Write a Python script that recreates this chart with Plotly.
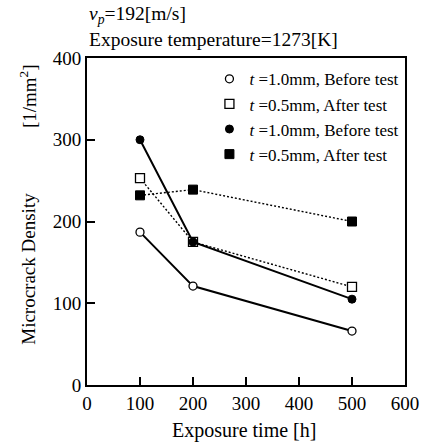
import plotly.graph_objects as go

x_time = [100, 200, 500]
open_circle = [187, 121, 66]      # t=1.0mm, Before test (open)
open_square = [253, 175, 120]     # t=0.5mm, After test (open)
filled_circle = [300, 175, 105]   # t=1.0mm, Before test (filled)
filled_square = [232, 239, 200]   # t=0.5mm, After test (filled)

x_ticks = [0, 100, 200, 300, 400, 500, 600]
y_ticks = [0, 100, 200, 300, 400]

labels = ["<i>t</i> =1.0mm, Before test", "<i>t</i> =0.5mm, After test",
          "<i>t</i> =1.0mm, Before test", "<i>t</i> =0.5mm, After test"]

FONT = "Liberation Serif, Times New Roman, serif"
fig = go.Figure()

series = [
    (open_circle, "circle", True, "solid", 2.0),
    (open_square, "square", True, "2px,2px", 1.4),
    (filled_circle, "circle", False, "solid", 2.0),
    (filled_square, "square", False, "2px,2px", 1.4),
]


def mk(sym, is_open):
    size = 8 if sym == "circle" else 9
    if is_open:
        return dict(symbol=sym, size=size, color="white",
                    line=dict(color="black", width=1.3))
    return dict(symbol=sym, size=size, color="black",
                line=dict(color="black", width=1))


for vals, sym, is_open, dash, w in series:
    fig.add_trace(go.Scatter(
        x=x_time, y=vals, mode="lines", showlegend=False,
        line=dict(color="black", width=w, dash=dash)))
for vals, sym, is_open, dash, w in series:
    fig.add_trace(go.Scatter(x=x_time, y=vals, mode="markers",
                             showlegend=False, marker=mk(sym, is_open)))
for (vals, sym, is_open, dash, w), lab in zip(series, labels):
    fig.add_trace(go.Scatter(x=[None], y=[None], mode="markers", name=lab,
                             marker=mk(sym, is_open)))

fig.update_layout(
    width=431, height=443,
    margin=dict(l=87, r=15, t=58, b=58),
    paper_bgcolor="white", plot_bgcolor="white",
    font=dict(family=FONT, size=19, color="black"),
    legend=dict(x=0.385, y=0.99, xanchor="left", yanchor="top",
                bgcolor="rgba(0,0,0,0)", font=dict(size=17, family=FONT),
                tracegroupgap=0, itemwidth=30),
    xaxis=dict(range=[0, 600], tickvals=x_ticks,
               showline=True, linecolor="black", linewidth=2, mirror=True,
               ticks="inside", ticklen=8, tickwidth=2, tickcolor="black",
               showgrid=False, zeroline=False, tickfont=dict(size=19)),
    yaxis=dict(range=[0, 400], tickvals=y_ticks,
               showline=True, linecolor="black", linewidth=2, mirror=True,
               ticks="inside", ticklen=8, tickwidth=2, tickcolor="black",
               showgrid=False, zeroline=False, tickfont=dict(size=19)),
    annotations=[
        dict(text="<i>v</i><sub><i>p</i></sub>=192[m/s]", xref="paper", yref="paper",
             x=0.0, y=1.13, xanchor="left", yanchor="middle",
             showarrow=False, font=dict(size=19.5, family=FONT)),
        dict(text="Exposure temperature=1273[K]", xref="paper", yref="paper",
             x=0.0, y=1.058, xanchor="left", yanchor="middle",
             showarrow=False, font=dict(size=19.5, family=FONT)),
        dict(text="Exposure time [h]", xref="paper", yref="paper",
             x=0.494, y=-0.138, xanchor="center", yanchor="middle",
             showarrow=False, font=dict(size=20, family=FONT)),
        dict(text="Microcrack Density", xref="paper", yref="paper",
             x=-0.185, y=0.356, xanchor="center", yanchor="middle",
             textangle=-90, showarrow=False, font=dict(size=19, family=FONT)),
        dict(text="[1/mm<sup>2</sup>]", xref="paper", yref="paper",
             x=-0.185, y=0.884, xanchor="center", yanchor="middle",
             textangle=-90, showarrow=False, font=dict(size=19, family=FONT)),
    ],
)

fig.write_html("out.html", config={"displayModeBar": False},
               post_script="document.body.style.margin='0';")
